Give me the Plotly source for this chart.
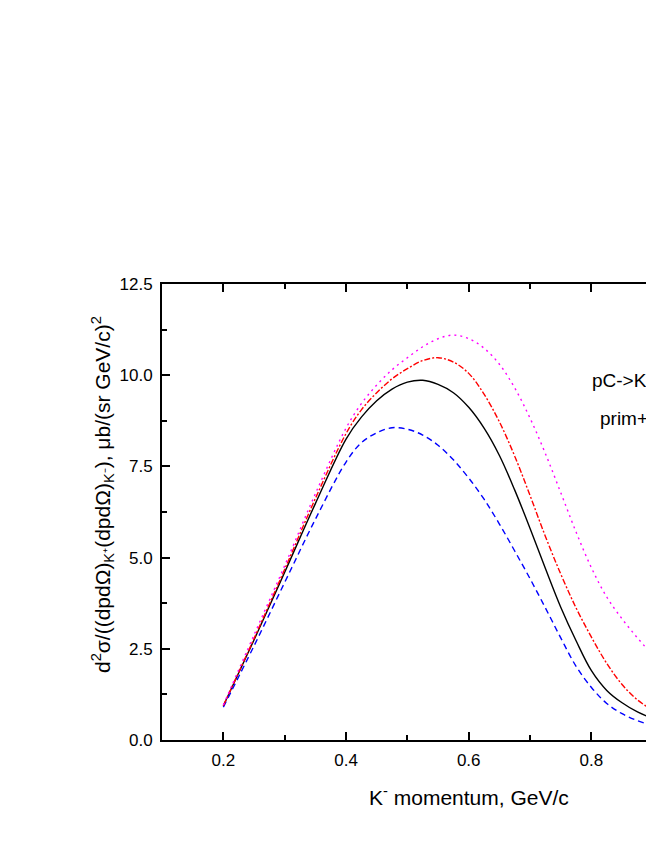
import plotly.graph_objects as go

# K- momentum (GeV/c)
momentum = [0.20, 0.25, 0.30, 0.35, 0.40, 0.425, 0.45, 0.475, 0.50, 0.525, 0.55, 0.575, 0.60,
            0.625, 0.65, 0.675, 0.70, 0.725, 0.75, 0.775, 0.80, 0.825, 0.85, 0.875, 0.90, 0.925]

# cross-section curves, µb/(sr GeV/c)^2
solid_black = [0.94, 2.74, 4.60, 6.48, 8.25, 8.85, 9.30, 9.62, 9.81, 9.86, 9.75, 9.52, 9.12,
               8.55, 7.80, 6.85, 5.80, 4.70, 3.64, 2.72, 1.90, 1.36, 1.02, 0.77, 0.60, 0.48]
dashed_blue = [0.90, 2.58, 4.32, 6.05, 7.62, 8.15, 8.42, 8.56, 8.52, 8.36, 8.08, 7.68, 7.18,
               6.60, 5.92, 5.18, 4.42, 3.62, 2.80, 2.02, 1.44, 1.00, 0.72, 0.53, 0.40, 0.32]
dashdot_red = [0.94, 2.78, 4.68, 6.62, 8.40, 9.05, 9.52, 9.90, 10.18, 10.40, 10.48, 10.36, 10.05,
               9.48, 8.72, 7.78, 6.70, 5.58, 4.55, 3.62, 2.82, 2.10, 1.52, 1.10, 0.82, 0.65]
dotted_magenta = [0.96, 2.88, 4.78, 6.75, 8.55, 9.22, 9.73, 10.15, 10.48, 10.78, 11.00, 11.10, 11.00,
                  10.74, 10.30, 9.65, 8.82, 7.85, 6.78, 5.70, 4.72, 3.92, 3.32, 2.80, 2.33, 1.95]

x_range = [0.1, 0.902]
y_range = [0.0, 12.5]

FONT = "Liberation Sans, Arial, sans-serif"

fig = go.Figure()
series = [
    (solid_black, "black", "solid"),
    (dashed_blue, "#0000FF", "6px,4px"),
    (dashdot_red, "#FF0000", "6px,2px,2px,2px"),
    (dotted_magenta, "#FF00FF", "2px,4px"),
]
for ys, col, dash in series:
    fig.add_trace(go.Scatter(
        x=momentum, y=ys, mode="lines",
        line=dict(color=col, width=1.4, dash=dash, shape="spline", smoothing=1.0),
        showlegend=False, hoverinfo="skip",
    ))

fig.update_layout(
    width=646, height=830,
    margin=dict(l=154, r=0, t=276, b=98),
    paper_bgcolor="white", plot_bgcolor="white",
    font=dict(family=FONT, size=17, color="black"),
    showlegend=False,
)
fig.update_xaxes(
    range=x_range, dtick=0.2, tick0=0.0, tickformat=".1f",
    ticks="inside", ticklen=8, tickwidth=1.5, tickcolor="black",
    minor=dict(dtick=0.1, tick0=0.0, ticks="inside", ticklen=5, tickwidth=1.5, tickcolor="black"),
    showline=True, linewidth=2, linecolor="black", mirror="ticks",
    showgrid=False, zeroline=False, ticklabelstandoff=4,
    tickfont=dict(size=17),
)
fig.update_yaxes(
    range=y_range, dtick=2.5, tick0=0.0, tickformat=".1f",
    ticks="inside", ticklen=8, tickwidth=1.5, tickcolor="black",
    minor=dict(dtick=1.25, tick0=0.0, ticks="inside", ticklen=5, tickwidth=1.5, tickcolor="black"),
    showline=True, linewidth=2, linecolor="black", mirror=False,
    showgrid=False, zeroline=False, ticklabelstandoff=4,
    tickfont=dict(size=17),
)

# y-axis title
fig.add_annotation(
    text="d<sup>2</sup>σ/((dpdΩ)<sub>K⁺</sub>(dpdΩ)<sub>K⁻</sub>), μb/(sr GeV/c)<sup>2</sup>",
    xref="paper", yref="paper", x=0, y=0.5, xshift=-60, yshift=17,
    xanchor="center", yanchor="middle", textangle=-90,
    showarrow=False, font=dict(size=21),
)
# x-axis title
fig.add_annotation(
    text="K<sup>-</sup> momentum, GeV/c",
    xref="x", yref="paper", x=0.6, y=0, yshift=-56,
    xanchor="center", yanchor="middle",
    showarrow=False, font=dict(size=21),
)
# in-plot labels
fig.add_annotation(
    text="pC->K<sup>+</sup>K<sup>-</sup>", xref="x", yref="y", x=0.797, y=9.9,
    xanchor="left", yanchor="middle", showarrow=False, font=dict(size=19),
)
fig.add_annotation(
    text="prim+sec", xref="x", yref="y", x=0.810, y=8.8,
    xanchor="left", yanchor="middle", showarrow=False, font=dict(size=19),
)

fig.write_html("out.html")
